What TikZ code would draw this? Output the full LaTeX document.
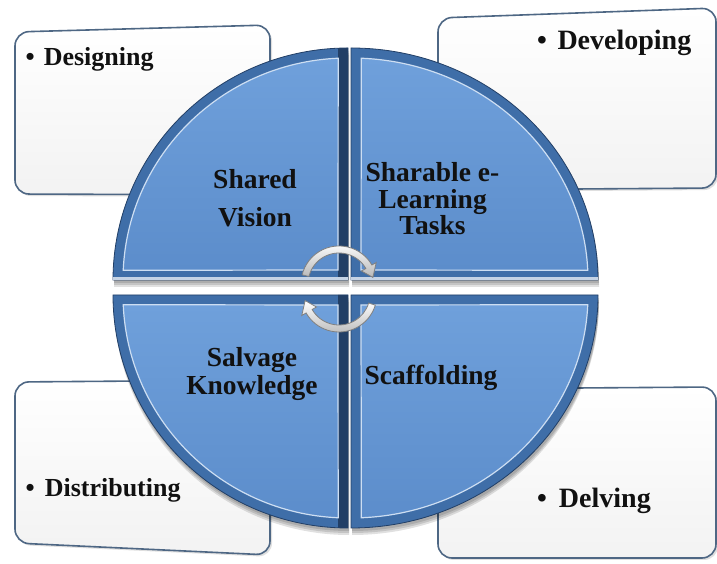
\documentclass[tikz,border=0pt]{standalone}
\usepackage{fontspec}
\setmainfont{Liberation Serif}
\usetikzlibrary{calc,shadows}
\definecolor{bevel}{HTML}{3F6EA8}
\definecolor{beveldark}{HTML}{223F66}
\definecolor{face}{HTML}{6FA0DB}
\definecolor{facelow}{HTML}{5C8DCB}
\definecolor{boxline}{HTML}{4E6784}
\definecolor{txt}{HTML}{111111}
\newcommand{\qTLo}{(348,284) -- (113,284) arc[start angle=180,end angle=90,x radius=235,y radius=232] -- cycle}
\newcommand{\qTLi}{(338,294) -- ($(348,284)+(177.5:225 and 222)$) arc[start angle=177.5,end angle=92.5,x radius=225,y radius=222] -- cycle}
\newcommand{\qTRo}{(351,284) -- (598,284) arc[start angle=0,end angle=90,x radius=247,y radius=232] -- cycle}
\newcommand{\qTRi}{(361,294) -- ($(351,284)+(2.5:237 and 222)$) arc[start angle=2.5,end angle=87.5,x radius=237,y radius=222] -- cycle}
\newcommand{\qBLo}{(348,269) -- (113,269) arc[start angle=180,end angle=270,x radius=235,y radius=233] -- cycle}
\newcommand{\qBLi}{(338,259) -- ($(348,269)+(182.5:225 and 223)$) arc[start angle=182.5,end angle=267.5,x radius=225,y radius=223] -- cycle}
\newcommand{\qBRo}{(351,269) -- (598,269) arc[start angle=0,end angle=-90,x radius=247,y radius=233] -- cycle}
\newcommand{\qBRi}{(361,259) -- ($(351,269)+(-2.5:237 and 223)$) arc[start angle=-2.5,end angle=-87.5,x radius=237,y radius=223] -- cycle}
\begin{document}
\begin{tikzpicture}[x=1pt,y=1pt,
  boxshape/.style={draw=boxline, line width=1.6pt, rounded corners=14pt, top color=white, bottom color=black!5,
    drop shadow={shadow xshift=2pt,shadow yshift=-2pt,opacity=0.25}},
  quadout/.style={fill=bevel, draw=beveldark, line width=0.8pt},
  quadin/.style={top color=face, bottom color=facelow, draw=white!65!face, line width=1.2pt},
  qshadow/.style={fill=black, opacity=0.12},
  boxtextL/.style={font=\bfseries\fontsize{26}{28}\selectfont, text=txt, inner sep=0pt, anchor=base west},
  boxtextR/.style={font=\bfseries\fontsize{28}{30}\selectfont, text=txt, inner sep=0pt, anchor=base west},
  qtext/.style={font=\bfseries\fontsize{27.5}{26.5}\selectfont, text=txt, align=center, inner sep=0pt, anchor=base},
  cyc/.style={draw=black!50, line width=0.8pt, top color=white, bottom color=black!28},
]
\useasboundingbox (0,0) rectangle (717,564);
\fill[white] (0,0) rectangle (717,564);
% corner boxes
\path[boxshape] (15,532) -- (270,539) -- (270,369) -- (15,370) -- cycle;
\path[boxshape] (438,546) -- (716,556) -- (716,376) -- (438,374) -- cycle;
\path[boxshape] (15,182) -- (270,184) -- (270,9) -- (15,21) -- cycle;
\path[boxshape] (438,175) -- (716,177) -- (716,6) -- (438,6) -- cycle;
% quadrant shadows
\foreach \d in {3,5,7}{
  \fill[qshadow, shift={(1,-\d)}] \qTLo;
  \fill[qshadow, shift={(1,-\d)}] \qTRo;
  \fill[qshadow, shift={(1,-\d)}] \qBLo;
  \fill[qshadow, shift={(1,-\d)}] \qBRo;
}
% quadrants
\path[quadout] \qTLo;
\path[quadout] \qTRo;
\path[quadout] \qBLo;
\path[quadout] \qBRo;
\begin{scope}\clip \qTLo; \fill[beveldark] (338,284) rectangle (349,520); \end{scope}
\begin{scope}\clip \qBLo; \fill[beveldark] (338,30) rectangle (349,270); \end{scope}
\begin{scope}\clip \qTLo; \fill[white!70!bevel] (113,284) rectangle (349,287); \end{scope}
\begin{scope}\clip \qTRo; \fill[white!70!bevel] (351,284) rectangle (600,287); \end{scope}
\path[quadin] \qTLi;
\path[quadin] \qTRi;
\path[quadin] \qBLi;
\path[quadin] \qBRi;
% quadrant labels (anchor = baseline of the last line)
\node[qtext] (shared) at (255,337) {Shared\\[11.5pt]Vision};
\node[qtext] (sharable) at (432.5,329) {Sharable e-\\Learning\\Tasks};
\node[qtext] (salvage) at (252,169) {Salvage\\[1.5pt]Knowledge};
\node[qtext] (scaffold) at (431,179) {Scaffolding};
% box labels
\node[boxtextL] (designing) at (25.5,498) {•\hspace{9pt}Designing};
\node[boxtextR] (developing) at (537,514) {•\hspace{10.5pt}Developing};
\node[boxtextL] (distributing) at (25.5,67) {•\hspace{10pt}Distributing};
\node[boxtextR] (delving) at (537,56) {•\hspace{12pt}Delving};
% circular arrows
\coordinate (ca) at (339,280);
\coordinate (cb) at (339,270);
\path[cyc] ($(ca)+(166:38)$) arc[start angle=166,end angle=30,radius=38]
  -- ($(ca)+(30:43)$) -- ($(ca)+(11:34.5)$) -- ($(ca)+(30:26)$) -- ($(ca)+(30:31)$)
  arc[start angle=30,end angle=166,radius=31] -- cycle;
\path[cyc] ($(cb)+(-17:38)$) arc[start angle=-17,end angle=-150,radius=38]
  -- ($(cb)+(-150:43)$) -- ($(cb)+(-169:34.5)$) -- ($(cb)+(-150:26)$) -- ($(cb)+(-150:31)$)
  arc[start angle=-150,end angle=-17,radius=31] -- cycle;
\end{tikzpicture}
\end{document}
